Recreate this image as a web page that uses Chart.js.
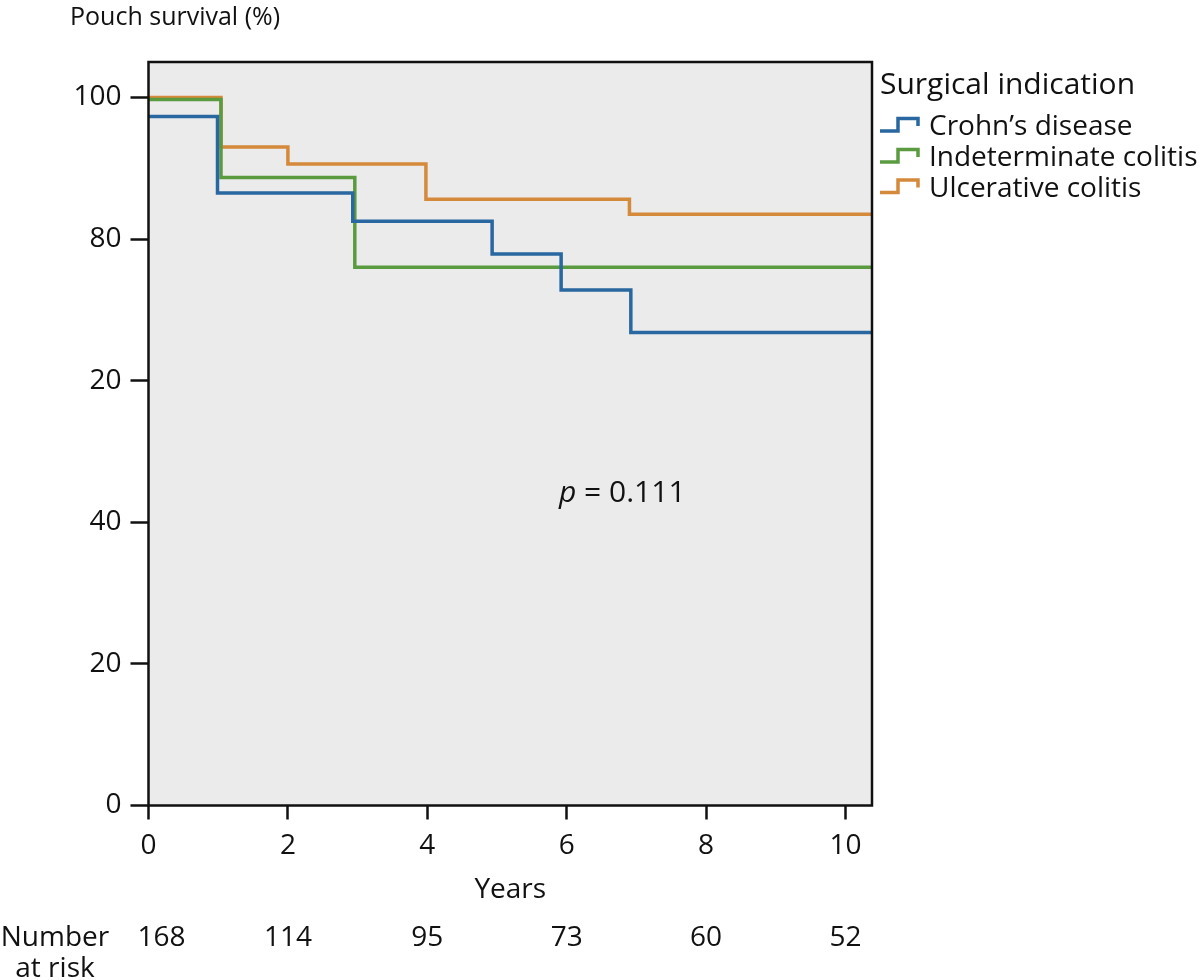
<!DOCTYPE html>
<html>
<head>
<meta charset="utf-8">
<script src="https://cdn.jsdelivr.net/npm/chart.js@4.4.1/dist/chart.umd.min.js"></script>
<style>
  html, body { margin: 0; padding: 0; background: #ffffff; }
  #wrap { width: 1200px; height: 980px; }
</style>
</head>
<body>
<div id="wrap"><canvas id="c" width="1200" height="980"></canvas></div>
<script>
// ---- Data ----
const seriesNames = ["Crohn\u2019s disease", "Indeterminate colitis", "Ulcerative colitis"];
const seriesColors = ["#2867a0", "#5b9b3f", "#d5893a"];

const crohnYears = [0, 0.99, 2.93, 4.93, 5.92, 6.92, 10.38];
const crohnSurvival = [97.3, 86.5, 82.5, 77.9, 72.8, 66.8, 66.8];

const indetYears = [0, 1.04, 2.96, 10.38];
const indetSurvival = [99.7, 88.7, 76.0, 76.0];

const ucYears = [0, 1.04, 2.0, 3.98, 6.9, 10.38];
const ucSurvival = [100, 93.0, 90.6, 85.6, 83.5, 83.5];

const yTickLabels = ["0", "20", "40", "20", "80", "100"];
const riskYears = [0, 2, 4, 6, 8, 10];
const numberAtRisk = [168, 114, 95, 73, 60, 52];

const legendTitle = "Surgical indication";
const yAxisTitle = "Pouch survival (%)";
const xAxisTitle = "Years";
const pLabel = "p";
const pValueText = " = 0.111";
const riskLabelLines = ["Number", "at risk"];

function toPoints(xs, ys) { return xs.map((x, i) => ({ x: x, y: ys[i] })); }

const FONT = '"Open Sans", "Noto Sans", sans-serif';
const INK = '#111111';

const decorPlugin = {
  id: 'decor',
  beforeDraw(chart) {
    const { ctx, chartArea: a } = chart;
    ctx.save();
    ctx.fillStyle = '#ebebeb';
    ctx.fillRect(a.left, a.top, a.right - a.left, a.bottom - a.top);
    ctx.restore();
  },
  afterDraw(chart) {
    const { ctx, chartArea: a, scales } = chart;
    ctx.save();
    // frame
    ctx.strokeStyle = INK;
    ctx.lineWidth = 2.5;
    ctx.strokeRect(a.left, a.top, a.right - a.left, a.bottom - a.top);

    ctx.fillStyle = INK;
    ctx.textBaseline = 'alphabetic';

    // y-axis title at top-left
    ctx.font = '25px ' + FONT;
    ctx.textAlign = 'left';
    ctx.fillText(yAxisTitle, 70, 25);

    // x-axis title
    ctx.font = '28px ' + FONT;
    ctx.textAlign = 'center';
    ctx.fillText(xAxisTitle, (a.left + a.right) / 2, 898);

    // number at risk
    ctx.fillText(riskLabelLines[0], 55, 946);
    ctx.fillText(riskLabelLines[1], 55, 977);
    riskYears.forEach((yr, i) => {
      let px = scales.x.getPixelForValue(yr);
      if (i === 0) px += 13;
      ctx.fillText(String(numberAtRisk[i]), px, 946);
    });

    // p-value
    ctx.textAlign = 'left';
    ctx.font = 'italic 30px ' + FONT;
    const px0 = 559, py0 = 502;
    ctx.fillText(pLabel, px0, py0);
    const pw = ctx.measureText(pLabel).width;
    ctx.font = '30px ' + FONT;
    ctx.fillText(pValueText, px0 + pw, py0);

    // legend
    ctx.font = '30px ' + FONT;
    ctx.fillText(legendTitle, 880, 94);
    ctx.font = '28px ' + FONT;
    const baselines = [135, 166, 196.5];
    chart.data.datasets.forEach((ds, i) => {
      const b = baselines[i];
      ctx.strokeStyle = ds.borderColor;
      ctx.lineWidth = 3.5;
      ctx.lineJoin = 'miter';
      ctx.beginPath();
      ctx.moveTo(880, b - 4);
      ctx.lineTo(898, b - 4);
      ctx.lineTo(898, b - 16.5);
      ctx.lineTo(918, b - 16.5);
      ctx.lineTo(918, b - 9);
      ctx.stroke();
      ctx.fillStyle = INK;
      ctx.fillText(ds.label, 929, b);
    });
    ctx.restore();
  }
};

const datasets = [
  { label: seriesNames[0], data: toPoints(crohnYears, crohnSurvival), borderColor: seriesColors[0] },
  { label: seriesNames[1], data: toPoints(indetYears, indetSurvival), borderColor: seriesColors[1] },
  { label: seriesNames[2], data: toPoints(ucYears, ucSurvival), borderColor: seriesColors[2] }
].map(d => Object.assign(d, {
  stepped: true, borderWidth: 3.5, pointRadius: 0, pointHoverRadius: 0, fill: false, tension: 0,
  borderCapStyle: 'butt', borderJoinStyle: 'miter'
}));

new Chart(document.getElementById('c'), {
  type: 'line',
  data: { datasets: datasets },
  options: {
    responsive: false,
    animation: false,
    devicePixelRatio: 1,
    layout: { padding: { left: 0, right: 328, top: 62, bottom: 0 } },
    plugins: { legend: { display: false }, tooltip: { enabled: false }, title: { display: false } },
    scales: {
      x: {
        type: 'linear',
        min: 0, max: 10.38,
        border: { display: false },
        grid: { drawOnChartArea: false, drawTicks: true, tickLength: 14, tickWidth: 2.5, tickColor: INK },
        ticks: { stepSize: 2, includeBounds: false, color: INK, font: { family: FONT, size: 28 }, padding: 10, maxRotation: 0 },
        afterFit(scale) { scale.height = 174.5; }
      },
      y: {
        type: 'linear',
        min: 0, max: 105,
        border: { display: false },
        grid: { drawOnChartArea: false, drawTicks: true, tickLength: 18, tickWidth: 2.5, tickColor: INK },
        ticks: {
          stepSize: 20, includeBounds: false, color: INK, font: { family: FONT, size: 28 }, padding: 9,
          callback: (v) => yTickLabels[Math.round(v / 20)]
        },
        afterFit(scale) { scale.width = 148.5; }
      }
    }
  },
  plugins: [decorPlugin]
});
</script>
</body>
</html>
